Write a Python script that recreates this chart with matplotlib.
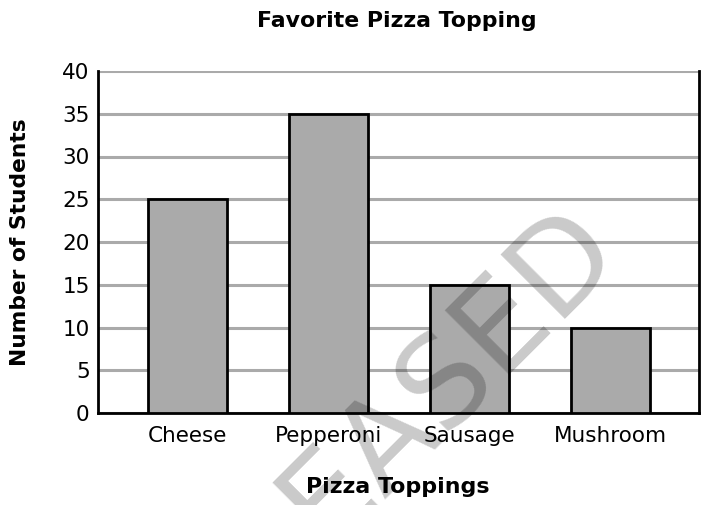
import matplotlib
matplotlib.use("Agg")
import matplotlib.pyplot as plt

categories = ["Cheese", "Pepperoni", "Sausage", "Mushroom"]
students = [25, 35, 15, 10]
yticks = [0, 5, 10, 15, 20, 25, 30, 35, 40]

W, H = 714, 505
fig = plt.figure(figsize=(W / 100, H / 100), dpi=100)
ax = fig.add_axes([98 / W, 1 - 413 / H, (699 - 98) / W, (413 - 71) / H])

x = list(range(len(categories)))
ax.bar(x, students, width=0.56, color="#aaaaaa", edgecolor="black", linewidth=2, zorder=3)

ax.set_xlim(-0.635, 3.63)
ax.set_ylim(0, 40)
ax.set_yticks(yticks)
ax.set_xticks(x)
ax.set_xticklabels(categories)
ax.yaxis.grid(True, color="#aaaaaa", linewidth=2.2, zorder=0)
ax.set_axisbelow(True)
ax.tick_params(axis="both", length=0, labelsize=15.5)
ax.tick_params(axis="x", pad=9)
ax.tick_params(axis="y", pad=6)
for s in ["left", "right", "bottom"]:
    ax.spines[s].set_linewidth(2)
    ax.spines[s].set_color("black")
ax.spines["top"].set_visible(False)

fig.text(397 / W, 1 - 21 / H, "Favorite Pizza Topping", ha="center", va="center",
         fontsize=15.8, fontweight="bold")
fig.text(20 / W, 1 - 242 / H, "Number of Students", ha="center", va="center",
         rotation=90, fontsize=15.7, fontweight="bold")
fig.text(398 / W, 1 - 487 / H, "Pizza Toppings", ha="center", va="center",
         fontsize=15.9, fontweight="bold")

fig.text(622 / W, 1 - 250 / H, "RELEASED", ha="right", va="baseline",
         rotation=45, rotation_mode="anchor", fontsize=90, color="black",
         alpha=0.21, zorder=10)

fig.savefig("out.png", dpi=100)
